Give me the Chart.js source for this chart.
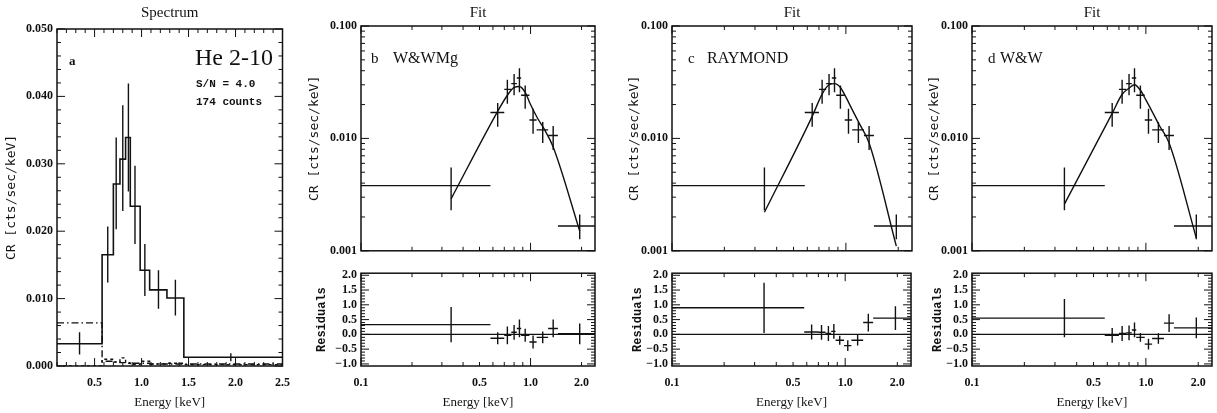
<!DOCTYPE html>
<html>
<head>
<meta charset="utf-8">
<script src="https://cdn.jsdelivr.net/npm/chart.js@4/dist/chart.umd.min.js"></script>
<style>
    html, body { margin: 0; padding: 0; background: #fff; }
    #wrap { position: relative; width: 1217px; height: 413px; overflow: hidden; }
    #wrap canvas { position: absolute; }
</style>
</head>
<body>
<div id="wrap"></div>
<script>
'use strict';

// ---- data: energy bins (keV) shared by the fit panels ----
const binLo  = [0.1, 0.58, 0.70, 0.77, 0.83, 0.88, 0.985, 1.086, 1.27, 1.45];
const binHi  = [0.58, 0.70, 0.77, 0.83, 0.88, 0.985, 1.086, 1.27, 1.45, 2.4];
const binMid = [0.34, 0.64, 0.73, 0.80, 0.86, 0.93, 1.035, 1.18, 1.36, 1.95];

// ---- panel a: spectrum histogram (cts/sec/keV) ----
const specEdges  = [0.1, 0.58, 0.70, 0.77, 0.83, 0.88, 0.985, 1.086, 1.27, 1.45, 2.5];
const specRate   = [0.0033, 0.0165, 0.0270, 0.0307, 0.0339, 0.0237, 0.0142, 0.0113, 0.0101, 0.0013];
const specErrLo  = [0.0017, 0.0124, 0.0203, 0.0230, 0.0259, 0.0181, 0.0104, 0.0085, 0.0075, 0.0007];
const specErrHi  = [0.0050, 0.0207, 0.0339, 0.0387, 0.0419, 0.0297, 0.0181, 0.0142, 0.0128, 0.0019];
const specDashDot = [0.0064, 0.0007, 0.0006, 0.0005, 0.0005, 0.0004, 0.0004, 0.0003, 0.0003, 0.0003];
const specDashed  = [0.0000, 0.0010, 0.0006, 0.0012, 0.0004, 0.0002, 0.0007, 0.0003, 0.0004, 0.0002];

// ---- fit panels: data points ----
const fitRate  = [0.0038, 0.0170, 0.0273, 0.0307, 0.0345, 0.0242, 0.0146, 0.0119, 0.0106, 0.00166];
const fitErrLo = [0.0023, 0.0127, 0.0203, 0.0242, 0.0257, 0.0184, 0.0110, 0.0091, 0.0079, 0.00127];
const fitErrHi = [0.0055, 0.0207, 0.0333, 0.0374, 0.0420, 0.0295, 0.0184, 0.0140, 0.0129, 0.00210];

// ---- model curves ----
const modelE = [0.34, 0.64, 0.73, 0.80, 0.86, 0.93, 1.0, 1.1, 1.2, 1.36, 1.95];
const modelWWMg    = [0.0029, 0.0174, 0.0242, 0.0284, 0.0290, 0.0257, 0.0200, 0.0151, 0.0122, 0.0084, 0.0015];
const modelRaymond = [0.0022, 0.0157, 0.0248, 0.0300, 0.0307, 0.0284, 0.0233, 0.0174, 0.0134, 0.0091, 0.0011];
const modelWW      = [0.0026, 0.0167, 0.0247, 0.0279, 0.0300, 0.0268, 0.0220, 0.0167, 0.0129, 0.0091, 0.0013];

// ---- residuals ----
const resWWMg       = [0.33, -0.13, -0.03, 0.07, 0.20, -0.03, -0.26, -0.10, 0.20, 0.02];
const resWWMgErr    = [0.60, 0.20, 0.30, 0.25, 0.30, 0.22, 0.22, 0.20, 0.30, 0.35];
const resRaymond    = [0.90, 0.08, 0.07, 0.03, 0.10, -0.20, -0.38, -0.20, 0.40, 0.55];
const resRaymondErr = [0.85, 0.25, 0.25, 0.25, 0.25, 0.15, 0.18, 0.18, 0.30, 0.40];
const resWW         = [0.55, -0.03, 0.03, 0.05, 0.15, -0.10, -0.33, -0.14, 0.38, 0.22];
const resWWErr      = [0.65, 0.25, 0.25, 0.25, 0.25, 0.15, 0.18, 0.18, 0.30, 0.35];

// ---- tick values ----
const specXLabels = [0.5, 1.0, 1.5, 2.0, 2.5];
const specXMinor  = [0.1, 0.2, 0.3, 0.4, 0.6, 0.7, 0.8, 0.9, 1.1, 1.2, 1.3, 1.4, 1.6, 1.7, 1.8, 1.9, 2.1, 2.2, 2.3, 2.4];
const specYLabels = [0.00, 0.01, 0.02, 0.03, 0.04, 0.05];
const specYMinor  = [0.002, 0.004, 0.006, 0.008, 0.012, 0.014, 0.016, 0.018, 0.022, 0.024, 0.026, 0.028,
                     0.032, 0.034, 0.036, 0.038, 0.042, 0.044, 0.046, 0.048];
const logXLabels = [0.1, 0.5, 1.0, 2.0];
const logXMajor  = [0.1, 1.0];
const logXMinor  = [0.2, 0.3, 0.4, 0.5, 0.6, 0.7, 0.8, 0.9, 2.0];
const logYLabels = [0.001, 0.01, 0.1];
const logYMinor  = [0.002, 0.003, 0.004, 0.005, 0.006, 0.007, 0.008, 0.009,
                    0.02, 0.03, 0.04, 0.05, 0.06, 0.07, 0.08, 0.09];
const resYLabels = [-1.0, -0.5, 0.0, 0.5, 1.0, 1.5, 2.0];
const resYMinor  = [-0.9, -0.8, -0.7, -0.6, -0.4, -0.3, -0.2, -0.1, 0.1, 0.2, 0.3, 0.4, 0.6, 0.7, 0.8, 0.9,
                    1.1, 1.2, 1.3, 1.4, 1.6, 1.7, 1.8, 1.9];

const INK = '#111';
const tickFont = { family: 'Liberation Serif', size: 12, weight: 'bold' };

// 박스 + 안쪽 눈금 (IDL 스타일) — 위치는 모두 스케일에서 계산
const framePlugin = {
    id: 'frame',
    afterDatasetsDraw(chart, args, opts) {
        const { ctx, chartArea: a, scales } = chart;
        ctx.save();
        ctx.strokeStyle = INK;
        ctx.lineWidth = 1.5;
        ctx.strokeRect(a.left, a.top, a.right - a.left, a.bottom - a.top);
        ctx.lineWidth = 1;
        const xt = (vals, len) => vals.forEach(v => {
            const px = scales.x.getPixelForValue(v);
            if (px < a.left - 0.5 || px > a.right + 0.5) return;
            ctx.beginPath();
            ctx.moveTo(px, a.bottom); ctx.lineTo(px, a.bottom - len);
            ctx.moveTo(px, a.top); ctx.lineTo(px, a.top + len);
            ctx.stroke();
        });
        const yt = (vals, len) => vals.forEach(v => {
            const py = scales.y.getPixelForValue(v);
            if (py < a.top - 0.5 || py > a.bottom + 0.5) return;
            ctx.beginPath();
            ctx.moveTo(a.left, py); ctx.lineTo(a.left + len, py);
            ctx.moveTo(a.right, py); ctx.lineTo(a.right - len, py);
            ctx.stroke();
        });
        xt(opts.xMajor || [], 8);
        xt(opts.xMinor || [], 4);
        yt(opts.yMajor || [], 8);
        yt(opts.yMinor || [], 4);
        ctx.restore();
    }
};

// 패널 제목과 주석 텍스트
const notesPlugin = {
    id: 'notes',
    afterDraw(chart, args, opts) {
        const { ctx, chartArea: a } = chart;
        ctx.save();
        ctx.fillStyle = INK;
        ctx.textBaseline = 'middle';
        if (opts.title) {
            ctx.font = '15px "Liberation Serif"';
            ctx.textAlign = 'center';
            ctx.fillText(opts.title, (a.left + a.right) / 2, 13);
        }
        ctx.textAlign = 'left';
        (opts.items || []).forEach(n => {
            ctx.font = n.font;
            ctx.fillText(n.text, a.left + n.dx, a.top + n.dy);
        });
        ctx.restore();
    }
};

function stepPoints(edges, vals) {
    const pts = vals.map((v, i) => ({ x: edges[i], y: v }));
    pts.push({ x: edges[edges.length - 1], y: vals[vals.length - 1] });
    return pts;
}

function crossPoints(xLo, xHi, xMid, y, yLo, yHi) {
    const pts = [];
    for (let i = 0; i < y.length; i++) {
        if (xLo) {
            pts.push({ x: xLo[i], y: y[i] }, { x: xHi[i], y: y[i] }, { x: xMid[i], y: null });
        }
        pts.push({ x: xMid[i], y: yLo[i] }, { x: xMid[i], y: yHi[i] }, { x: xMid[i], y: null });
    }
    return pts;
}

function lineSet(data, extra) {
    return Object.assign({
        data, borderColor: INK, borderWidth: 1.4, pointRadius: 0,
        fill: false, spanGaps: false, tension: 0
    }, extra || {});
}

function makeCanvas(left, top, w, h) {
    const c = document.createElement('canvas');
    c.width = w; c.height = h;
    c.style.left = left + 'px'; c.style.top = top + 'px';
    c.style.width = w + 'px'; c.style.height = h + 'px';
    document.getElementById('wrap').appendChild(c);
    return c;
}

function yScale(cfg) {
    return {
        type: cfg.type, min: cfg.min, max: cfg.max,
        afterBuildTicks: s => { s.ticks = cfg.labels.map(v => ({ value: v })); },
        afterFit: s => { s.width = cfg.width; },
        grid: { display: false, drawTicks: false },
        border: { display: false },
        ticks: {
            autoSkip: false, padding: 4, color: INK,
            font: Object.assign({}, tickFont, cfg.font || {}),
            callback: cfg.fmt
        },
        title: {
            display: true, text: cfg.title, color: INK,
            font: cfg.titleFont,
            padding: { top: cfg.titlePad, bottom: 0 }
        }
    };
}

function xScale(cfg) {
    return {
        type: cfg.type, min: cfg.min, max: cfg.max,
        display: cfg.show,
        afterBuildTicks: s => { s.ticks = cfg.labels.map(v => ({ value: v })); },
        afterFit: s => { s.height = cfg.show ? 47 : 0; },
        grid: { display: false, drawTicks: false },
        border: { display: false },
        ticks: {
            autoSkip: false, maxRotation: 0, padding: 10, color: INK, font: tickFont,
            callback: v => Number(v).toFixed(1)
        },
        title: {
            display: true, text: 'Energy [keV]', color: INK,
            font: { family: 'Liberation Serif', size: 13 },
            padding: { top: 0, bottom: 3 }
        }
    };
}

function baseOptions(padding, scales, frame, notes) {
    return {
        responsive: false, animation: false, events: [],
        layout: { padding, autoPadding: false },
        plugins: { legend: { display: false }, tooltip: { enabled: false }, frame, notes },
        scales
    };
}

Chart.register(framePlugin, notesPlugin);

const crTitleFont = { family: 'DejaVu Sans Mono', size: 13 };

// ---------------- panel a ----------------
new Chart(makeCanvas(0, 0, 300, 413), {
    type: 'line',
    data: {
        datasets: [
            lineSet(stepPoints(specEdges, specRate), { stepped: 'before', borderWidth: 1.6 }),
            lineSet(stepPoints(specEdges, specDashDot), { stepped: 'before', borderDash: [7, 3, 1.5, 3] }),
            lineSet(stepPoints(specEdges, specDashed), { stepped: 'before', borderDash: [3, 3] }),
            lineSet(crossPoints(null, null, binMid, specRate, specErrLo, specErrHi))
        ]
    },
    options: baseOptions(
        { left: 0, right: 7, top: 29, bottom: 0 },
        {
            x: xScale({ type: 'linear', min: 0.1, max: 2.5, labels: specXLabels, show: true }),
            y: yScale({
                type: 'linear', min: 0, max: 0.05, labels: specYLabels, width: 57,
                fmt: v => Number(v).toFixed(3), title: 'CR [cts/sec/keV]',
                titleFont: crTitleFont, titlePad: 4
            })
        },
        { xMajor: specXLabels, xMinor: specXMinor, yMajor: specYLabels, yMinor: specYMinor },
        {
            title: 'Spectrum',
            items: [
                { text: 'a', dx: 12, dy: 33, font: 'bold 13px "Liberation Serif"' },
                { text: 'He 2-10', dx: 138, dy: 30, font: '24px "Liberation Serif"' },
                { text: 'S/N = 4.0', dx: 139, dy: 55, font: 'bold 11px "Liberation Mono"' },
                { text: '174 counts', dx: 139, dy: 73, font: 'bold 11px "Liberation Mono"' }
            ]
        }
    )
});

// ---------------- fit panels b, c, d ----------------
const fitPanels = [
    { left: 300, width: 305, yw: 61, right: 10, tag: 'b', name: 'W&WMg', model: modelWWMg,
      res: resWWMg, resErr: resWWMgErr, crPad: 7, resPad: 15, tagDx: 10, nameDx: 32 },
    { left: 610, width: 305, yw: 62, right: 3, tag: 'c', name: 'RAYMOND', model: modelRaymond,
      res: resRaymond, resErr: resRaymondErr, crPad: 17, resPad: 21, tagDx: 16, nameDx: 35 },
    { left: 915, width: 302, yw: 57, right: 5, tag: 'd', name: 'W&W', model: modelWW,
      res: resWW, resErr: resWWErr, crPad: 12, resPad: 16, tagDx: 16, nameDx: 28 }
];

fitPanels.forEach(p => {
    // upper: rate with model
    new Chart(makeCanvas(p.left, 0, p.width, 262), {
        type: 'line',
        data: {
            datasets: [
                lineSet(modelE.map((e, i) => ({ x: e, y: p.model[i] })), { cubicInterpolationMode: 'monotone' }),
                lineSet(crossPoints(binLo, binHi, binMid, fitRate, fitErrLo, fitErrHi))
            ]
        },
        options: baseOptions(
            { left: 0, right: p.right, top: 26, bottom: 2 },
            {
                x: xScale({ type: 'logarithmic', min: 0.1, max: 2.4, labels: logXLabels, show: false }),
                y: yScale({
                    type: 'logarithmic', min: 0.001, max: 0.1, labels: logYLabels, width: p.yw,
                    fmt: v => Number(v).toFixed(3), title: 'CR [cts/sec/keV]',
                    titleFont: crTitleFont, titlePad: p.crPad
                })
            },
            { xMajor: logXMajor, xMinor: logXMinor, yMajor: logYLabels, yMinor: logYMinor },
            {
                title: 'Fit',
                items: [
                    { text: p.tag, dx: p.tagDx, dy: 33, font: '15px "Liberation Serif"' },
                    { text: p.name, dx: p.nameDx, dy: 33, font: '16px "Liberation Serif"' }
                ]
            }
        )
    });

    // lower: residuals
    new Chart(makeCanvas(p.left, 262, p.width, 151), {
        type: 'line',
        data: {
            datasets: [
                lineSet([{ x: 0.1, y: 0 }, { x: 2.4, y: 0 }]),
                lineSet(crossPoints(binLo, binHi, binMid, p.res,
                    p.res.map((r, i) => r - p.resErr[i]), p.res.map((r, i) => r + p.resErr[i])))
            ]
        },
        options: baseOptions(
            { left: 0, right: p.right, top: 11, bottom: 0 },
            {
                x: xScale({ type: 'logarithmic', min: 0.1, max: 2.4, labels: logXLabels, show: true }),
                y: yScale({
                    type: 'linear', min: -1.07, max: 2.07, labels: resYLabels, width: p.yw,
                    fmt: v => Number(v).toFixed(1).replace('-', '\u2212'), title: 'Residuals',
                    font: { size: 12 },
                    titleFont: { family: 'Liberation Mono', size: 12, weight: 'bold' }, titlePad: p.resPad
                })
            },
            { xMajor: logXMajor, xMinor: logXMinor, yMajor: resYLabels, yMinor: resYMinor },
            {}
        )
    });
});
</script>
</body>
</html>
